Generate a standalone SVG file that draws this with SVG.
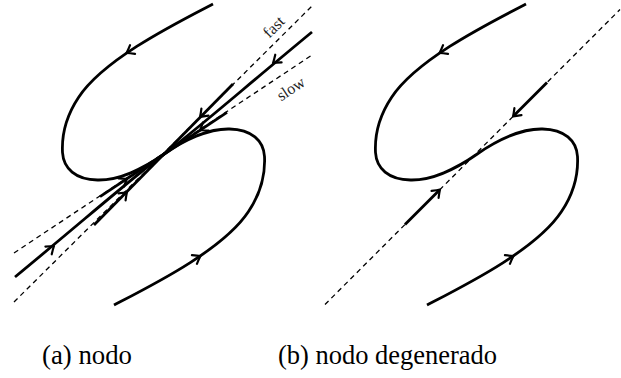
<svg xmlns="http://www.w3.org/2000/svg" xmlns:xlink="http://www.w3.org/1999/xlink" width="621" height="378" viewBox="0 0 621 378">
<style>
.sol{fill:none;stroke:#000;stroke-width:2.8}
.dash{fill:none;stroke:#000;stroke-width:1.3;stroke-dasharray:5 4}
.ah{fill:none;stroke:#000;stroke-width:2.2;stroke-linecap:round;stroke-linejoin:round}
.lbl{font-family:Liberation Serif, Times New Roman, DejaVu Serif, serif;font-size:16px;fill:#222}
.cap{font-family:Liberation Serif, Times New Roman, DejaVu Serif, serif;font-size:27px;fill:#000}
</style>
<defs>
<path id="ah" class="ah" d="M-7,-5 Q-2.5,-1.5 0,0 Q-2.5,1.5 -7,5"/>
<path id="S" class="sol" d="M49.5,-150.5 C10,-130 -60,-95 -85,-57 C-95,-42 -102,-22 -101,-2 C-100,14 -88,25 -66,25.5 C-45,26 -20,14 0,0 C20,-14 45,-26 66,-25.5 C88,-25 100,-14 101,2 C102,22 95,42 85,57 C60,95 -10,130 -49.5,150.5"/>
<g id="Sarrows">
<use xlink:href="#ah" href="#ah" transform="translate(-37,-101.5) rotate(150)"/>
<use xlink:href="#ah" href="#ah" transform="translate(37,101.5) rotate(-30)"/>
</g>
</defs>

<g id="panel-a" transform="translate(163.5,154.5)">
<g id="a-lines">
<path class="dash" d="M-149.5,147.5 L148.5,-148.5"/>
<path class="dash" d="M-149.5,98.5 L148.5,-99.5"/>
</g>
<g id="a-S">
<use xlink:href="#S" href="#S"/>
<use xlink:href="#Sarrows" href="#Sarrows"/>
</g>
<g id="a-half">
<path class="sol" d="M69.5,-70.5 L0,0"/>
<path class="sol" d="M63.5,-42.2 L0,0"/>
<path class="sol" d="M148.5,-122.5 C80,-66 25,-18 0,0"/>
<use xlink:href="#ah" href="#ah" transform="translate(36.5,-37.5) rotate(135)"/>
<use xlink:href="#ah" href="#ah" transform="translate(36.5,-24.2) rotate(146.4)"/>
<use xlink:href="#ah" href="#ah" transform="translate(109.5,-91.5) rotate(140.8)"/>
</g>
<use xlink:href="#a-half" href="#a-half" transform="rotate(180)"/>
</g>
<text class="lbl" text-anchor="middle" transform="translate(274,27) rotate(-45)" y="5">fast</text>
<text class="lbl" text-anchor="middle" transform="translate(291,89) rotate(-33.5)" y="5">slow</text>

<g id="panel-b" transform="translate(476.5,154.5)">
<path class="dash" d="M-151.5,150 L143.5,-145"/>
<use xlink:href="#S" href="#S"/>
<use xlink:href="#Sarrows" href="#Sarrows"/>
<g id="b-seg">
<path class="sol" d="M70.5,-72 L37.5,-39"/>
<use xlink:href="#ah" href="#ah" transform="translate(36.5,-38) rotate(135)"/>
<path class="sol" d="M-71.5,70 L-37.5,36"/>
<use xlink:href="#ah" href="#ah" transform="translate(-36.5,35) rotate(-45)"/>
</g>
</g>

<text class="cap" x="42" y="364" textLength="90" lengthAdjust="spacingAndGlyphs">(a) nodo</text>
<text class="cap" x="278" y="364" textLength="219" lengthAdjust="spacingAndGlyphs">(b) nodo degenerado</text>
</svg>
